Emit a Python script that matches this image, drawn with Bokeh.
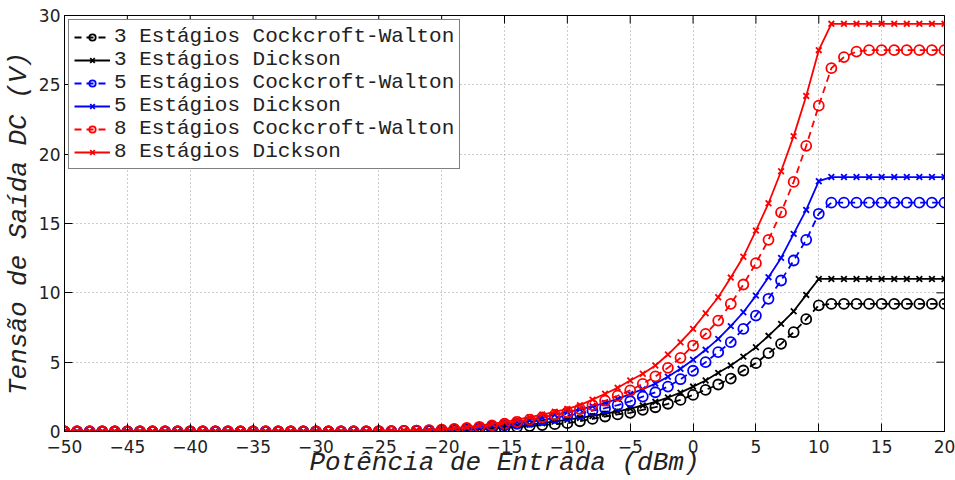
import math
from bokeh.plotting import figure
from bokeh.models import FixedTicker, LinearAxis, Legend, LegendItem, CustomJSTickFormatter, Range1d
from bokeh.embed import file_html
from bokeh.resources import INLINE

power_dbm = list(range(-50, 21))
zeros = [0.0] * 25

cw3 = zeros + [0.01, 0.01, 0.02, 0.03, 0.04,
               0.06, 0.08, 0.11, 0.15, 0.20, 0.26, 0.32, 0.39, 0.46, 0.53,
               0.60, 0.74, 0.91, 1.08, 1.23, 1.35, 1.56, 1.75, 2.00, 2.28,
               2.64, 3.00, 3.39, 3.82, 4.40, 4.93, 5.65, 6.32, 7.16, 8.10,
               9.10] + [9.20] * 10
dk3 = zeros + [0.01, 0.02, 0.03, 0.04, 0.06,
               0.08, 0.11, 0.15, 0.20, 0.26, 0.33, 0.41, 0.50, 0.60, 0.72,
               0.85, 0.98, 1.12, 1.28, 1.45, 1.65, 1.88, 2.14, 2.45, 2.80,
               3.24, 3.68, 4.23, 4.76, 5.40, 6.08, 6.90, 7.76, 8.67, 9.85,
               11.00] + [11.00] * 10
cw5 = zeros + [0.01, 0.02, 0.04, 0.06, 0.08,
               0.11, 0.15, 0.20, 0.27, 0.35, 0.45, 0.56, 0.69, 0.83, 0.98,
               1.15, 1.30, 1.50, 1.68, 1.90, 2.18, 2.52, 2.83, 3.24, 3.77,
               4.38, 5.00, 5.72, 6.44, 7.40, 8.36, 9.57, 10.89, 12.33, 13.82,
               15.70] + [16.50] * 10
dk5 = zeros + [0.02, 0.03, 0.05, 0.07, 0.10,
               0.14, 0.19, 0.25, 0.33, 0.43, 0.55, 0.68, 0.83, 1.00, 1.20,
               1.40, 1.60, 1.82, 2.06, 2.35, 2.70, 3.05, 3.45, 3.95, 4.52,
               5.17, 5.89, 6.68, 7.60, 8.60, 9.80, 11.13, 12.52, 14.25, 15.98,
               18.05] + [18.35] * 10
cw8 = zeros + [0.02, 0.03, 0.05, 0.07, 0.10,
               0.14, 0.19, 0.26, 0.34, 0.44, 0.56, 0.70, 0.86, 1.02, 1.20,
               1.39, 1.62, 1.90, 2.22, 2.58, 2.96, 3.44, 3.97, 4.59, 5.31,
               6.20, 7.04, 8.00, 9.20, 10.60, 12.14, 13.82, 15.80, 18.00, 20.60,
               23.50, 26.20, 27.00, 27.40] + [27.50] * 7
dk8 = zeros + [0.03, 0.05, 0.07, 0.10, 0.14,
               0.19, 0.25, 0.33, 0.43, 0.55, 0.69, 0.85, 1.03, 1.22, 1.42,
               1.63, 1.90, 2.30, 2.72, 3.15, 3.68, 4.16, 4.76, 5.55, 6.44,
               7.40, 8.53, 9.68, 11.10, 12.60, 14.49, 16.46, 18.77, 21.30, 24.20,
               27.50] + [29.40] * 10

labels = ["3 Estágios Cockcroft-Walton", "3 Estágios Dickson",
          "5 Estágios Cockcroft-Walton", "5 Estágios Dickson",
          "8 Estágios Cockcroft-Walton", "8 Estágios Dickson"]
series = [cw3, dk3, cw5, dk5, cw8, dk8]
colors = ["black", "black", "blue", "blue", "red", "red"]
markers = ["circle", "x", "circle", "x", "circle", "x"]
dashes = ["7 5", "solid", "7 5", "solid", "7 5", "solid"]

x_ticks = list(range(-50, 21, 5))
y_ticks = list(range(0, 31, 5))
X_MIN, X_MAX, Y_MIN, Y_MAX = -50, 20, 0, 30

p = figure(width=955, height=480, output_backend="svg", toolbar_location=None,
           x_range=Range1d(X_MIN, X_MAX), y_range=Range1d(Y_MIN, Y_MAX),
           min_border_left=64, min_border_right=11, min_border_top=15, min_border_bottom=49)
p.xaxis.visible = False
p.yaxis.visible = False
p.renderers = []

fmt = CustomJSTickFormatter(code="return tick < 0 ? '\u2212' + Math.abs(tick) : String(tick);")

xb = LinearAxis(ticker=FixedTicker(ticks=x_ticks), formatter=fmt,
                axis_label="Potência de Entrada (dBm)")
yl = LinearAxis(ticker=FixedTicker(ticks=y_ticks), formatter=fmt,
                axis_label="Tensão de Saída DC (V)")
for ax in (xb, yl):
    ax.major_tick_in = 8
    ax.major_tick_out = 0
    ax.minor_tick_in = 0
    ax.minor_tick_out = 0
    ax.axis_line_color = "black"
    ax.major_tick_line_color = "black"
    ax.major_label_text_font = "DejaVu Sans"
    ax.major_label_text_color = "#222222"
    ax.major_label_text_font_size = "17px"
    ax.axis_label_text_font = "Liberation Mono"
    ax.axis_label_text_font_style = "italic"
    ax.axis_label_text_font_size = "26px"
    ax.axis_label_text_color = "#222222"
xb.major_label_standoff = 8
xb.axis_label_standoff = -8
yl.major_label_standoff = 4
yl.axis_label_standoff = 2
p.add_layout(xb, "below")
p.add_layout(yl, "left")

# inward ticks on the top and right edges (clipped to the frame)
p.scatter(x_ticks, [Y_MAX] * len(x_ticks), marker="dash", angle=math.pi / 2, size=16,
          line_color="black", line_width=1)
p.scatter([X_MAX] * len(y_ticks), y_ticks, marker="dash", size=16,
          line_color="black", line_width=1)

p.xgrid.ticker = FixedTicker(ticks=x_ticks)
p.ygrid.ticker = FixedTicker(ticks=y_ticks)
p.grid.grid_line_color = "#9a9a9a"
p.grid.grid_line_dash = "1 3"
p.grid.grid_line_width = 1
p.outline_line_color = "black"
p.outline_line_alpha = 1.0
p.background_fill_color = "white"
p.border_fill_color = "white"

items = []
for lab, ys, c, m, d in zip(labels, series, colors, markers, dashes):
    r1 = p.line(power_dbm, ys, line_color=c, line_width=1.8, line_dash=d)
    size = 10 if m == "circle" else 8
    r2 = p.scatter(power_dbm, ys, marker=m, size=size, line_color=c, fill_color=None, line_width=1.8)
    items.append(LegendItem(label=lab, renderers=[r1, r2]))

leg = Legend(items=items, location="top_left")
leg.label_text_font = "Liberation Mono"
leg.label_text_font_size = "21px"
leg.label_text_line_height = 0.9
leg.label_text_color = "#222222"
leg.glyph_width = 36
leg.glyph_height = 16
leg.label_height = 16
leg.spacing = 0
leg.padding = 5
leg.margin = 4
leg.label_standoff = 4
leg.border_line_color = "black"
leg.border_line_width = 1
leg.background_fill_alpha = 1.0
p.add_layout(leg, "center")

open("out.html", "w").write(file_html(p, INLINE))
